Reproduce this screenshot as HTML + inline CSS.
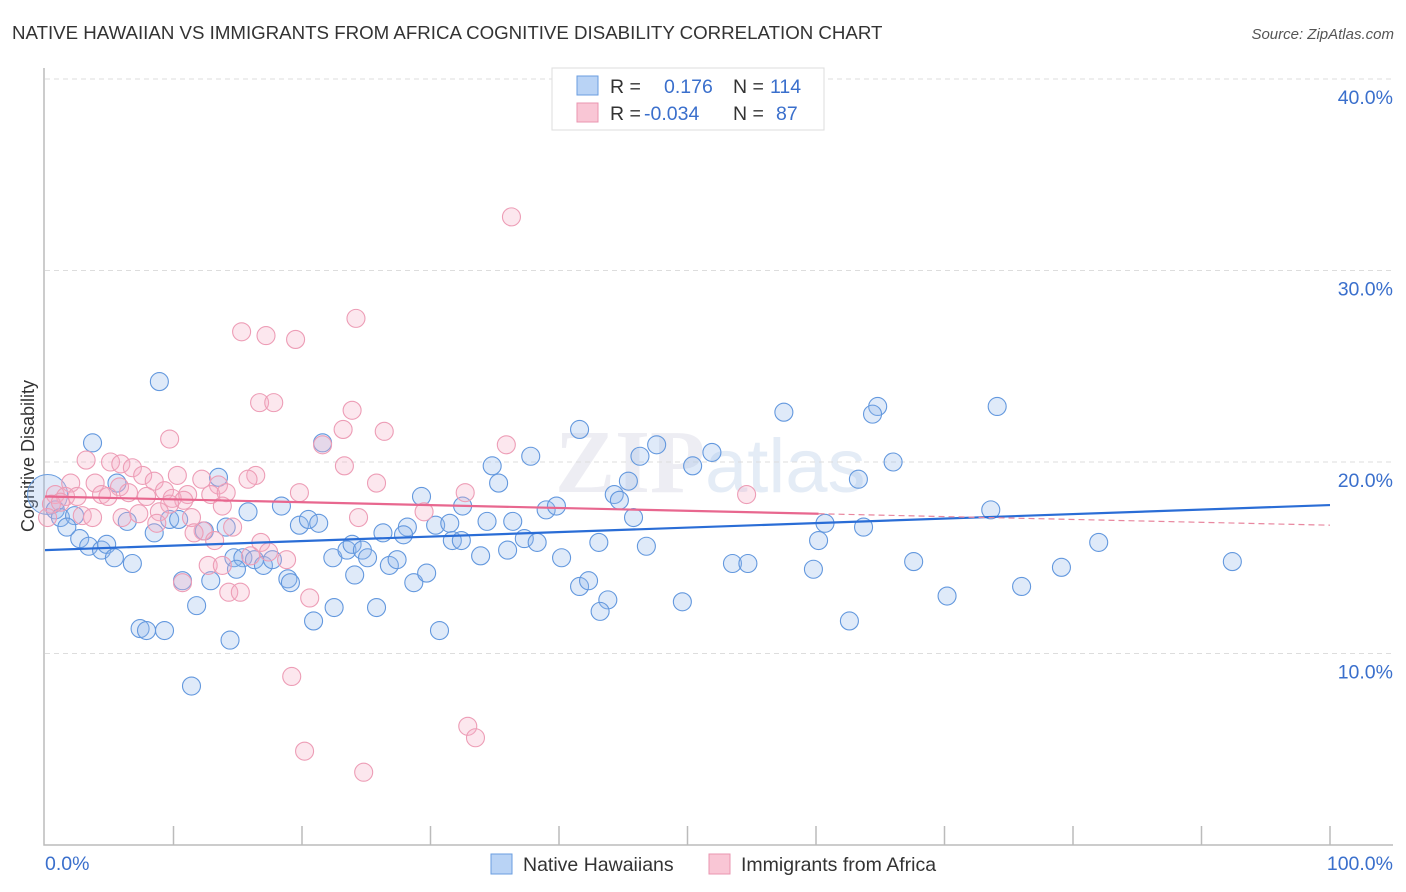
<!DOCTYPE html>
<html><head><meta charset="utf-8"><style>
body{margin:0;background:#fff;font-family:"Liberation Sans",sans-serif;}
svg{display:block}
</style></head><body>
<svg id="chart" width="1406" height="892">
<text x="12" y="39" font-size="18.7" fill="#333">NATIVE HAWAIIAN VS IMMIGRANTS FROM AFRICA COGNITIVE DISABILITY CORRELATION CHART</text>
<text x="1394" y="39" font-size="15" fill="#555" font-style="italic" text-anchor="end">Source: ZipAtlas.com</text>
<text transform="translate(34,456) rotate(-90)" font-size="18" fill="#333" text-anchor="middle">Cognitive Disability</text>
<text x="555" y="492" font-size="90" fill="#ccd" opacity="0.35" font-family="Liberation Serif,serif" font-weight="bold">ZIP</text>
<text x="705" y="492" font-size="76" fill="#b5c9e6" opacity="0.35">atlas</text>
<g id="grid"></g><g id="axes"></g><g id="pts"></g><g id="lines"></g>
<g>
<rect x="552" y="68" width="272" height="62" fill="#fff" stroke="#ddd"/>
<rect x="577" y="76" width="21" height="19" fill="#b9d3f5" stroke="#6a9ee0"/>
<rect x="577" y="103" width="21" height="19" fill="#f9c6d5" stroke="#ea95b0"/>
<text x="610" y="93" font-size="19.5" fill="#333">R = <tspan x="664" fill="#3a6fcc">0.176</tspan><tspan x="733" fill="#333">N = </tspan><tspan x="770" fill="#3a6fcc">114</tspan></text>
<text x="610" y="120" font-size="19.5" fill="#333">R = <tspan x="644" fill="#3a6fcc">-0.034</tspan><tspan x="733" fill="#333">N = </tspan><tspan x="776" fill="#3a6fcc">87</tspan></text>
</g>
<g>
<rect x="491" y="854" width="21" height="20" fill="#b9d3f5" stroke="#6a9ee0"/>
<text x="523" y="871" font-size="19.5" fill="#333">Native Hawaiians</text>
<rect x="709" y="854" width="21" height="20" fill="#f9c6d5" stroke="#ea95b0"/>
<text x="741" y="871" font-size="19.5" fill="#333">Immigrants from Africa</text>
</g>
</svg>
<script>
const yTicks=[10,20,30,40];
const xTickLabels=["0.0%","100.0%"];
const blueX=[8.9,3.7,41.6,47.6,46.3,51.9,37.8,34.8,50.4,66.0,57.5,64.8,64.4,74.1,63.3,13.5,5.6,21.6,45.4,35.3,29.3,44.3,44.7,18.4,15.8,39.0,39.8,45.8,32.5,73.6,0.8,1.2,2.3,1.7,6.4,9.7,10.4,8.5,12.4,14.1,19.8,20.5,21.3,26.3,28.2,27.9,30.4,31.5,31.7,32.4,34.4,36.4,37.3,38.3,43.1,46.8,60.7,60.2,63.7,82.0,2.7,3.4,4.4,4.8,5.4,6.8,10.7,12.9,14.7,15.4,16.3,17.0,17.7,14.9,18.9,19.1,22.4,23.5,23.9,24.7,25.1,24.1,26.8,27.4,28.7,29.7,33.9,36.0,40.2,41.6,42.3,43.8,43.2,49.6,53.5,54.7,59.8,67.6,70.2,76.0,79.1,92.4,62.6,11.8,22.5,25.8,20.9,7.4,7.9,9.3,30.7,14.4,11.4];
const blueY=[24.2,21.0,21.7,20.9,20.3,20.5,20.3,19.8,19.8,20.0,22.6,22.9,22.5,22.9,19.1,19.2,18.9,21.0,19.0,18.9,18.2,18.3,18.0,17.7,17.4,17.5,17.7,17.1,17.7,17.5,17.5,17.1,17.2,16.6,16.9,17.0,17.0,16.3,16.4,16.6,16.7,17.0,16.8,16.3,16.6,16.2,16.7,16.8,15.9,15.9,16.9,16.9,16.0,15.8,15.8,15.6,16.8,15.9,16.6,15.8,16.0,15.6,15.4,15.7,15.0,14.7,13.8,13.8,15.0,15.0,14.9,14.6,14.9,14.4,13.9,13.7,15.0,15.4,15.7,15.4,15.0,14.1,14.6,14.9,13.7,14.2,15.1,15.4,15.0,13.5,13.8,12.8,12.2,12.7,14.7,14.7,14.4,14.8,13.0,13.5,14.5,14.8,11.7,12.5,12.4,12.4,11.7,11.3,11.2,11.2,11.2,10.7,8.3];
const pinkX=[36.3,24.2,15.3,17.2,19.5,16.7,17.8,23.9,23.2,26.4,9.7,21.6,35.9,3.2,5.1,5.9,6.8,23.3,7.6,10.3,12.2,16.4,15.8,2.0,3.9,5.8,8.5,13.5,25.8,9.3,11.1,12.9,14.1,19.8,32.7,54.6,0.8,1.6,2.5,4.4,4.9,6.5,7.9,9.9,10.8,0.5,1.2,9.7,13.8,2.9,3.7,6.0,7.3,8.9,11.4,29.5,24.4,0.2,8.7,12.3,14.6,11.6,13.2,16.8,17.4,16.0,18.8,12.7,13.8,10.7,14.3,15.2,20.6,19.2,32.9,33.5,20.2,24.8];
const pinkY=[32.8,27.5,26.8,26.6,26.4,23.1,23.1,22.7,21.7,21.6,21.2,20.9,20.9,20.1,20.0,19.9,19.7,19.8,19.3,19.3,19.1,19.3,19.1,18.9,18.9,18.7,19.0,18.8,18.9,18.5,18.3,18.3,18.4,18.4,18.4,18.3,18.3,18.2,18.2,18.3,18.2,18.4,18.2,18.1,18.0,17.8,17.9,17.8,17.7,17.2,17.1,17.1,17.3,17.4,17.1,17.4,17.1,17.1,16.8,16.4,16.6,16.3,15.9,15.8,15.3,15.1,14.9,14.6,14.6,13.7,13.2,13.2,12.9,8.8,6.2,5.6,4.9,3.8];
const blueTrend=[15.4,17.75];
const pinkTrend=[18.2,16.7];
const pinkSolidEnd=60.2;

const X0=45,X1=1330,Y0=845,PY=19.15;
const sx=v=>X0+(X1-X0)*v/100, sy=v=>Y0-v*PY;
const NS="http://www.w3.org/2000/svg";
function mk(tag,attrs,parent){const e=document.createElementNS(NS,tag);for(const k in attrs)e.setAttribute(k,attrs[k]);document.getElementById(parent).appendChild(e);return e;}
yTicks.forEach(t=>{
  const g=mk('line',{x1:X0,x2:1393,y1:sy(t),y2:sy(t),stroke:'#ddd','stroke-dasharray':'5,4'},'grid');
  
  
  const l=mk('text',{x:1393,y:sy(t)+25,'font-size':19.5,fill:'#3a6fcc','text-anchor':'end'},'grid');
  l.textContent=t.toFixed(1)+'%';
  
  
});
const ax=mk('path',{d:`M${X0-1},68V${Y0}H1393`,stroke:'#bbb',fill:'none','stroke-width':1.5},'axes');


for(let i=1;i<=10;i++){
  const t=mk('line',{x1:sx(i*10),x2:sx(i*10),y1:826,y2:Y0,stroke:'#bbb','stroke-width':1.5},'axes');
  
  
}
const xl0=mk('text',{x:45,y:870,'font-size':19.5,fill:'#3a6fcc'},'axes');xl0.textContent=xTickLabels[0];


const xl1=mk('text',{x:1393,y:870,'font-size':19.5,fill:'#3a6fcc','text-anchor':'end'},'axes');xl1.textContent=xTickLabels[1];


const bb=mk('circle',{cx:sx(0.2),cy:sy(18.3),r:20,fill:'rgba(150,185,235,0.3)',stroke:'#6a9ee0'},'pts');


blueX.forEach((x,i)=>{
  const c=mk('circle',{cx:sx(x),cy:sy(blueY[i]),r:9,fill:'rgba(150,185,235,0.3)',stroke:'#6398de','stroke-width':1.1},'pts');
  
  
});
pinkX.forEach((x,i)=>{
  const c=mk('circle',{cx:sx(x),cy:sy(pinkY[i]),r:9,fill:'rgba(246,175,198,0.3)',stroke:'#ed9db6','stroke-width':1.1},'pts');
  
  
});
const bl=mk('line',{x1:sx(0),y1:sy(blueTrend[0]),x2:sx(100),y2:sy(blueTrend[1]),stroke:'#2a6dd6','stroke-width':2.2},'lines');


const pm=pinkTrend[0]+(pinkTrend[1]-pinkTrend[0])*pinkSolidEnd/100;
const pl=mk('line',{x1:sx(0),y1:sy(pinkTrend[0]),x2:sx(pinkSolidEnd),y2:sy(pm),stroke:'#e8678f','stroke-width':2.2},'lines');


const pd=mk('line',{x1:sx(pinkSolidEnd),y1:sy(pm),x2:sx(100),y2:sy(pinkTrend[1]),stroke:'#e8879f','stroke-width':1.2,'stroke-dasharray':'6,4'},'lines');


</script>
</body></html>
